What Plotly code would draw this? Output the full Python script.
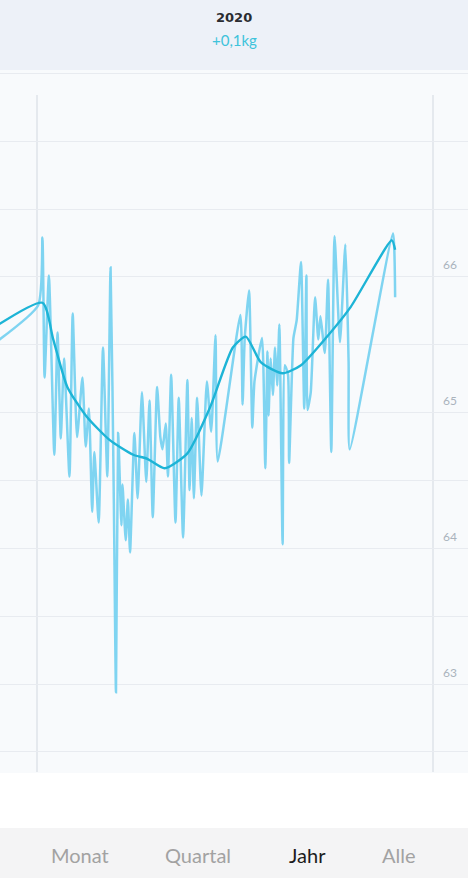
import plotly.graph_objects as go

# ---------------- data ----------------
raw_dates = [
    "2019-10-31", "2020-01-02", "2020-01-06", "2020-01-08", "2020-01-12", "2020-01-17",
    "2020-01-20", "2020-01-23", "2020-01-26", "2020-01-31", "2020-02-03", "2020-02-07",
    "2020-02-12", "2020-02-15", "2020-02-18", "2020-02-21", "2020-02-23", "2020-02-27",
    "2020-03-02", "2020-03-06", "2020-03-09", "2020-03-12", "2020-03-14", "2020-03-16",
    "2020-03-19", "2020-03-20", "2020-03-23", "2020-03-25", "2020-03-27", "2020-03-31",
    "2020-04-03", "2020-04-07", "2020-04-11", "2020-04-14", "2020-04-17", "2020-04-21",
    "2020-04-24", "2020-04-26", "2020-04-29", "2020-05-01", "2020-05-04", "2020-05-08",
    "2020-05-11", "2020-05-15", "2020-05-19", "2020-05-21", "2020-05-23", "2020-05-25",
    "2020-05-28", "2020-06-01", "2020-06-06", "2020-06-10", "2020-06-14", "2020-06-16",
    "2020-07-07", "2020-07-09", "2020-07-11", "2020-07-15", "2020-07-18", "2020-07-20",
    "2020-07-27", "2020-07-30", "2020-08-01", "2020-08-02", "2020-08-04", "2020-08-06",
    "2020-08-08", "2020-08-10", "2020-08-12", "2020-08-15", "2020-08-17", "2020-08-20",
    "2020-08-21", "2020-08-25", "2020-08-28", "2020-09-01", "2020-09-04", "2020-09-06",
    "2020-09-07", "2020-09-10", "2020-09-14", "2020-09-17", "2020-09-19", "2020-09-23",
    "2020-09-26", "2020-09-29", "2020-10-02", "2020-10-07", "2020-10-12", "2020-10-15",
    "2020-10-16", "2020-11-25", "2020-11-27",
]
raw_kg = [
    65.38, 65.79, 66.29, 65.26, 66.01, 64.69,
    65.59, 64.81, 65.40, 64.53, 65.73, 64.82,
    65.26, 64.75, 65.03, 64.27, 64.71, 64.19,
    65.48, 64.53, 66.07, 64.36, 62.94, 64.85,
    64.17, 64.47, 64.06, 64.36, 63.97, 64.85,
    64.37, 65.15, 64.49, 65.09, 64.23, 65.19,
    64.82, 64.73, 64.92, 64.53, 65.28, 64.19,
    65.11, 64.08, 65.24, 64.43, 64.96, 64.37,
    65.11, 64.39, 65.23, 64.86, 65.57, 64.64,
    65.72, 65.06, 65.55, 65.90, 64.89, 65.23,
    65.55, 64.59, 65.45, 64.98, 65.40, 65.13,
    65.48, 65.20, 65.65, 64.03, 65.35, 65.28,
    64.63, 65.55, 65.68, 66.11, 65.03, 66.01,
    65.02, 65.15, 65.85, 65.54, 65.71, 65.44,
    65.98, 64.71, 66.30, 65.52, 66.24, 65.37,
    64.73, 66.32, 65.85,
]

trend_dates = [
    "2019-10-31", "2020-01-06", "2020-01-16", "2020-01-29", "2020-02-16", "2020-03-08",
    "2020-03-30", "2020-04-12", "2020-04-28", "2020-05-19", "2020-06-09", "2020-06-30",
    "2020-07-12", "2020-07-26", "2020-08-15", "2020-09-01", "2020-09-25", "2020-10-17",
    "2020-11-24", "2020-11-27",
]
trend_kg = [
    65.51, 65.81, 65.54, 65.19, 64.97, 64.80,
    64.69, 64.66, 64.59, 64.70, 65.04, 65.48,
    65.56, 65.37, 65.29, 65.35, 65.56, 65.78,
    66.27, 66.20,
]

tick_vals = [63, 64, 65, 66]
tick_text = ["63", "64", "65", "66"]
year_bounds = ["2020-01-01", "2021-01-01"]
header_title = "2020"
header_delta = "+0,1kg"
tabs = ["Monat", "Quartal", "Jahr", "Alle"]
active_tab = "Jahr"

# ---------------- figure ----------------
W, H = 468, 878
def py(p):  # pixel row -> paper y
    return 1 - p / H
def px(p):  # pixel col -> paper x
    return p / W

FONT = "Lato, Open Sans, sans-serif"

fig = go.Figure()

fig.add_trace(go.Scatter(
    x=raw_dates, y=raw_kg, mode="lines",
    line=dict(color="rgba(120,210,240,0.95)", width=2.5, shape="spline", smoothing=0.5),
    hoverinfo="skip",
))
fig.add_trace(go.Scatter(
    x=trend_dates, y=trend_kg, mode="lines",
    line=dict(color="#1db4d6", width=2.4, shape="spline", smoothing=0.6),
    hoverinfo="skip",
))

shapes = [
    # header band
    dict(type="rect", xref="paper", yref="paper", x0=0, x1=1, y0=py(70), y1=1,
         fillcolor="#edf1f8", line=dict(width=0), layer="below"),
    # tab bar
    dict(type="rect", xref="paper", yref="paper", x0=0, x1=1, y0=0, y1=py(828),
         fillcolor="#f4f4f5", line=dict(width=0), layer="below"),
]
for d in year_bounds:
    shapes.append(dict(type="line", xref="x", yref="paper", x0=d, x1=d,
                       y0=py(772), y1=py(95),
                       line=dict(color="#dfe3ea", width=1.5), layer="below"))

annotations = []
for v, t in zip(tick_vals, tick_text):
    annotations.append(dict(x=px(450), y=v, xref="paper", yref="y", text=t,
                            showarrow=False, yshift=12, yanchor="middle", xanchor="center",
                            font=dict(family=FONT, size=12, color="#aab3bd")))
annotations.append(dict(x=0.5, y=py(18), xref="paper", yref="paper", text="<b>" + header_title + "</b>",
                        showarrow=False, yanchor="middle", xanchor="center",
                        font=dict(family="DejaVu Sans, sans-serif", size=13, color="#2a2c31")))
annotations.append(dict(x=0.5, y=py(40), xref="paper", yref="paper", text=header_delta,
                        showarrow=False, yanchor="middle", xanchor="center",
                        font=dict(family=FONT, size=15, color="#3ec3db")))
tab_px = [80, 198, 307, 399]
for t, xp in zip(tabs, tab_px):
    annotations.append(dict(x=px(xp), y=py(855), xref="paper", yref="paper", text=t,
                            showarrow=False, yanchor="middle", xanchor="center",
                            font=dict(family=FONT, size=20,
                                      color="#1c1c1c" if t == active_tab else "#a2a2a2")))

fig.update_layout(
    width=W, height=H,
    margin=dict(l=0, r=0, t=0, b=0),
    paper_bgcolor="#ffffff",
    plot_bgcolor="#f8fafc",
    showlegend=False,
    shapes=shapes,
    annotations=annotations,
    xaxis=dict(
        type="date",
        range=["2019-11-27 19:16", "2021-02-02 08:24"],
        showgrid=False, zeroline=False, showticklabels=False, ticks="",
        domain=[0, 1], fixedrange=True,
    ),
    yaxis=dict(
        range=[62.345, 67.525],
        domain=[py(773), py(70)],
        dtick=0.5, tick0=62.5,
        showgrid=True, gridcolor="#e8ebf0", gridwidth=1,
        zeroline=False, showticklabels=False, ticks="", fixedrange=True,
    ),
)

fig.write_html(
    "out.html",
    config={"displayModeBar": False},
    post_script="document.body.style.margin='0px';document.body.style.overflow='hidden';",
)
